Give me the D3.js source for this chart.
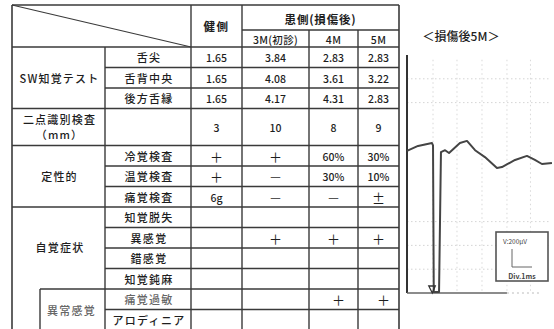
<!DOCTYPE html>
<html><head><meta charset="utf-8">
<script src="https://cdn.jsdelivr.net/npm/d3@7"></script>
<style>body{margin:0;background:#fff}svg{display:block}</style>
</head><body><svg id="c" width="554" height="329"></svg>
<script>
// ---------- DATA ----------
const headerHealthy = "健側";
const headerAffected = "患側(損傷後)";
const columnHeaders = ["3M(初診)", "4M", "5M"];
const rowLabels = ["舌尖","舌背中央","後方舌縁","","冷覚検査","温覚検査","痛覚検査","知覚脱失","異感覚","錯感覚","知覚鈍麻","痛覚過敏","アロディニア"];
const healthy = ["1.65","1.65","1.65","3","＋","＋","6g","","","","","",""];
const m3      = ["3.84","4.08","4.17","10","＋","－","－","","＋","","","",""];
const m4      = ["2.83","3.61","4.31","8","60%","30%","－","","＋","","","＋",""];
const m5      = ["2.83","3.22","2.83","9","30%","10%","±","","＋","","","＋",""];
const groupLabels = [["SW知覚テスト"],["二点識別検査","（mm）"],["定性的"],["自覚症状"],["異常感覚"]];
const groupStart = [0,3,4,7,11];
const groupEnd   = [3,4,7,11,13];
const waveTitle = "＜損傷後5M＞";
const waveTime = [0,7.5,17,17.7,18.2,21.8,23.1,25.9,28.6,36,40.8,46.3,53,61.2,64.6,73.5,81.6,87,91.8,98.6];
const waveAmp  = [59.7,61.8,63,62,0.4,0.4,59.2,60,58.8,63,63.9,60,57.1,52.5,52.9,55.9,57.6,55.9,54.2,54.6];
const scaleLabelV = "V:200μV";
const scaleLabelT = "Div.1ms";

// ---------- LAYOUT ----------
(function(){
const svg = d3.select("#c");
const line = "#3a3a3a";
const fontJP = "'Noto Sans CJK JP','Noto Sans',sans-serif";
const colX = [12,105,191,242,309,358,399];
const topY = 5, midH = 30, headBot = 47;
const rowWeight = rowLabels.map((d,i)=> i===3 ? 1.8 : 1);
const cum = [0]; rowWeight.forEach(w=>cum.push(cum[cum.length-1]+w));
const y = d3.scaleLinear().domain([0,12.8]).range([headBot, 309.5]);
const rowTop = i => y(cum[i]);
const rowMid = i => (y(cum[i])+y(cum[i+1]))/2;
const bottom = 340;

const g = svg.append("g");
function L(x1,y1,x2,y2,w=1.4,c=line){ g.append("line").attr("x1",x1).attr("y1",y1).attr("x2",x2).attr("y2",y2).attr("stroke",c).attr("stroke-width",w); }
function T(x,yy,s,opt={}){
  return g.append("text").attr("x",x).attr("y",yy).attr("text-anchor","middle").attr("dominant-baseline","central")
   .attr("font-family",opt.f||fontJP).attr("font-size",opt.s||11).attr("font-weight",opt.w||500)
   .attr("letter-spacing",opt.ls!==undefined?opt.ls:1).attr("fill",opt.c||"#1e1e1e").text(s);
}

L(colX[0],topY,colX[6],topY,1.6);
L(colX[0],topY,colX[0],bottom,1.6);
L(colX[6],topY,colX[6],bottom,1.6);
L(colX[2],topY,colX[2],bottom);
L(colX[3],topY,colX[3],bottom);
L(colX[3],midH,colX[6],midH);
L(colX[4],midH,colX[4],bottom);
L(colX[5],midH,colX[5],bottom);
L(colX[0],headBot,colX[6],headBot,1.6);
L(colX[0],topY,colX[2],headBot,1.1);
L(colX[1],headBot,colX[1],bottom);

for(let i=1;i<rowLabels.length;i++){
  const yy=rowTop(i);
  const gi = groupStart.indexOf(i);
  if(gi>=0){
    const x0 = (gi===4) ? 40 : colX[0];
    L(x0,yy,colX[6],yy);
  } else L(colX[1],yy,colX[6],yy);
}
L(40,rowTop(11),40,bottom);

T((colX[2]+colX[3])/2,(topY+headBot)/2,headerHealthy,{w:700,s:11.5,ls:1.5});
T((colX[3]+colX[6])/2,(topY+midH)/2+1,headerAffected,{w:700,s:11.5,ls:0.8});
columnHeaders.forEach((h,i)=>T((colX[3+i]+colX[4+i])/2,(midH+headBot)/2+1,h,{s:10.5,ls:0.3}));

rowLabels.forEach((r,i)=>{ if(r) T((colX[1]+colX[2])/2+1,rowMid(i),r,{s:11,ls:1.3,c: i===11?"#666":"#1e1e1e"}); });

groupLabels.forEach((lab,k)=>{
  const x0 = k===4 ? 40 : colX[0];
  const cx = k===3 ? 60 : (x0+colX[1])/2 + (k===4?-1:1);
  const cy = (rowTop(groupStart[k]) + rowTop(groupEnd[k]))/2 + (k===3?-1:0);
  const n = lab.length;
  lab.forEach((s,j)=>T(cx,cy+(j-(n-1)/2)*15,s,{s:11,ls:1.2,c:k===4?"#666":"#1e1e1e"}));
});

const valueCols = [healthy,m3,m4,m5];
valueCols.forEach((col,ci)=>{
  col.forEach((v,ri)=>{
    if(!v) return;
    let cx=(colX[2+ci]+colX[3+ci])/2;
    if(ri===11) cx+=5;
    const isSym = /[＋－±]/.test(v);
    T(cx,rowMid(ri)+0.5,v,{s:isSym?13:10.5,ls:0,w:isSym?400:500,c:(v==="－")?"#555":"#1e1e1e"});
  });
});

const wx = d3.scaleLinear().domain([0,100]).range([407,554]);
const wy = d3.scaleLinear().domain([0,100]).range([293,55]);
const wg = svg.append("g");
[10,20,30,80,90].forEach(a=>wg.append("line").attr("x1",wx(0)).attr("x2",wx(97)).attr("y1",wy(a)).attr("y2",wy(a))
   .attr("stroke","#c9c9c9").attr("stroke-width",0.8).attr("stroke-dasharray","1.5,2.5"));
[17.7,34,51,68,84].forEach(t=>wg.append("line").attr("x1",wx(t)).attr("x2",wx(t)).attr("y1",wy(98)).attr("y2",wy(0))
   .attr("stroke","#cfcfcf").attr("stroke-width",0.8).attr("stroke-dasharray","1.5,3"));
wg.append("line").attr("x1",wx(0)).attr("x2",wx(0)).attr("y1",wy(100)).attr("y2",wy(0)).attr("stroke","#333").attr("stroke-width",2);
wg.append("line").attr("x1",wx(0)).attr("x2",wx(68)).attr("y1",wy(0)).attr("y2",wy(0)).attr("stroke","#666").attr("stroke-width",1.6);
wg.append("line").attr("x1",wx(68)).attr("x2",wx(90)).attr("y1",wy(0)).attr("y2",wy(0)).attr("stroke","#bbb").attr("stroke-width",1).attr("stroke-dasharray","2,3");
wg.append("path").datum(waveTime.map((t,i)=>[t,waveAmp[i]]))
  .attr("d",d3.line().x(d=>wx(d[0])).y(d=>wy(d[1])))
  .attr("fill","none").attr("stroke","#444").attr("stroke-width",2).attr("stroke-linejoin","round");
const mx = wx(17.2), my = wy(0);
wg.append("path").attr("d",`M${mx-3.5},${my-7}L${mx+3},${my-7}L${mx},${my}Z`).attr("fill","none").attr("stroke","#333").attr("stroke-width",1.3);
wg.append("text").attr("x",461).attr("y",35).attr("text-anchor","middle").attr("dominant-baseline","central")
  .attr("font-family",fontJP).attr("font-size",12).attr("font-weight",500).attr("fill","#222").text(waveTitle);
wg.append("rect").attr("x",496).attr("y",232).attr("width",52).attr("height",49).attr("fill","#fff").attr("stroke","#555").attr("stroke-width",1.6);
wg.append("text").attr("x",515).attr("y",241).attr("text-anchor","middle").attr("dominant-baseline","central")
  .attr("font-family",fontJP).attr("font-size",6.5).attr("fill","#444").text(scaleLabelV);
wg.append("path").attr("d","M512,249V267H532").attr("fill","none").attr("stroke","#666").attr("stroke-width",1);
wg.append("text").attr("x",522).attr("y",276).attr("text-anchor","middle").attr("dominant-baseline","central")
  .attr("font-family",fontJP).attr("font-size",7).attr("font-weight",700).attr("fill","#444").text(scaleLabelT);
})();
</script></body></html>
